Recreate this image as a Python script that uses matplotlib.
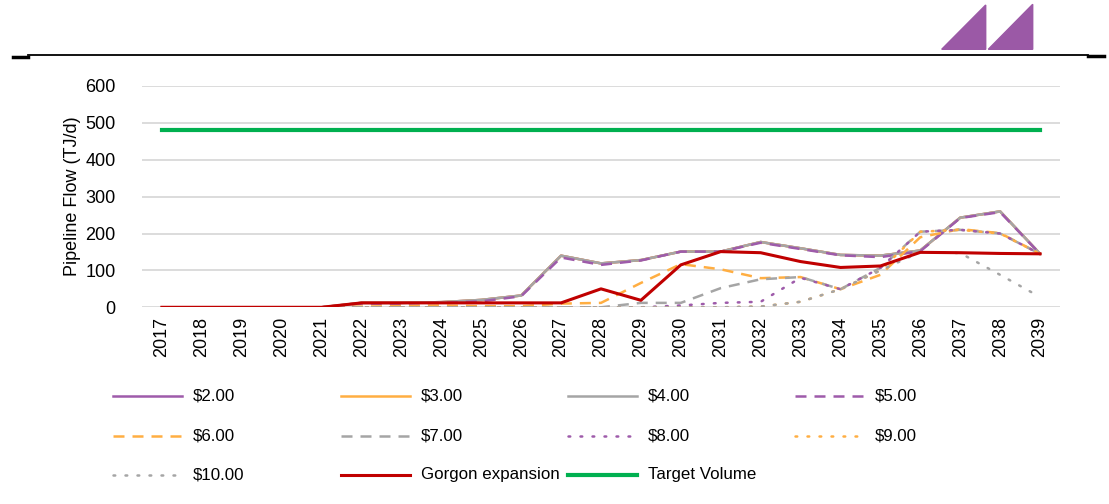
import numpy as np
import matplotlib
matplotlib.use("Agg")
import matplotlib.pyplot as plt
from matplotlib.lines import Line2D
from matplotlib.patches import Polygon

plt.rcParams['font.family'] = ['Liberation Sans', 'DejaVu Sans']
FS = 13
LFS = 12.2

years = [str(y) for y in range(2017, 2040)]

# values (TJ/d)
p2 = [0, 0, 0, 0, 0, 12, 12, 14, 20, 32, 140, 119, 128, 151, 151, 177, 160, 142, 140, 154, 243, 260, 145]
p3 = [0, 0, 0, 0, 0, 12, 12, 14, 20, 32, 140, 119, 128, 151, 151, 177, 160, 142, 140, 154, 243, 260, 145]
p4 = [0, 0, 0, 0, 0, 12, 12, 14, 20, 32, 140, 119, 128, 151, 151, 177, 160, 142, 140, 154, 243, 260, 145]
p5 = [0, 0, 0, 0, 0, 10, 10, 12, 16, 30, 135, 115, 127, 151, 151, 175, 158, 141, 136, 152, 242, 258, 145]
p6 = [0, 0, 0, 0, 0, 2, 3, 5, 3, 3, 10, 12, 66, 117, 103, 79, 82, 49, 88, 190, 212, 201, 145]
p7 = [0, 0, 0, 0, 0, 0, 0, 0, 0, 0, 0, 0, 12, 12, 52, 76, 82, 49, 107, 205, 210, 200, 145]
p8 = [0, 0, 0, 0, 0, 0, 0, 0, 0, 0, 0, 0, 0, 5, 12, 15, 80, 49, 107, 205, 210, 200, 145]
p9 = [0, 0, 0, 0, 0, 0, 0, 0, 0, 0, 0, 0, 0, 0, 0, 2, 15, 49, 100, 205, 210, 200, 145]
p10 = [0, 0, 0, 0, 0, 0, 0, 0, 0, 0, 0, 0, 0, 0, 0, 2, 15, 49, 100, 150, 147, 88, 28]
gorgon = [0, 0, 0, 0, 0, 12, 12, 12, 12, 12, 12, 50, 19, 115, 151, 148, 124, 108, 112, 149, 148, 146, 145]
target = [480] * len(years)

purple = '#9E5BAA'
orange = '#FFAE42'
grey = '#A5A5A5'
red = '#C00000'
green = '#00B050'

dash = (0, (4.4, 3.2))
dot = (0, (0.7, 4.1))

series = [
    ('$2.00', p2, purple, '-', 1.8),
    ('$3.00', p3, orange, '-', 1.8),
    ('$4.00', p4, grey, '-', 1.8),
    ('$5.00', p5, purple, dash, 1.8),
    ('$6.00', p6, orange, dash, 1.8),
    ('$7.00', p7, grey, dash, 1.8),
    ('$8.00', p8, purple, dot, 1.8),
    ('$9.00', p9, orange, dot, 1.8),
    ('$10.00', p10, grey, dot, 1.8),
    ('Gorgon expansion', gorgon, red, '-', 2.2),
    ('Target Volume', target, green, '-', 3.0),
]

fig = plt.figure(figsize=(11.09, 5.04), dpi=100)
ax = fig.add_axes([142 / 1109, 1 - 307.3 / 504, (1060 - 142) / 1109, (307.3 - 86) / 504])

x = np.arange(len(years))
for name, vals, col, ls, lw in series:
    ax.plot(x, vals, color=col, linestyle=ls, linewidth=lw,
            dash_capstyle='round' if ls == dot else 'butt', zorder=3)

ax.set_xlim(-0.5, len(years) - 0.5)
ax.set_ylim(0, 600)
ax.set_yticks(range(0, 700, 100))
ax.set_xticks(x)
ax.set_xticklabels(years, rotation=90, fontsize=FS)
ax.tick_params(axis='y', labelsize=FS, length=0, pad=19)
ax.tick_params(axis='x', length=0, pad=7)
ax.grid(axis='y', color='#D9D9D9', linewidth=1.3, zorder=0)
for s in ax.spines.values():
    s.set_visible(False)
ax.set_ylabel('Pipeline Flow (TJ/d)', fontsize=FS, labelpad=3)

# header rule
fig.add_artist(Line2D([28 / 1109, 1088 / 1109], [1 - 55 / 504] * 2, color='black', lw=1.3))
fig.add_artist(Line2D([13 / 1109, 28 / 1109], [1 - 56.5 / 504] * 2, color='black', lw=2.5))
fig.add_artist(Line2D([1088 / 1109, 1104 / 1109], [1 - 56 / 504] * 2, color='black', lw=2.5))

# logo
logo = '#9B59A6'
for x0, x1, top in [(941.7, 985.7, 5), (988.3, 1032.7, 4.3)]:
    pts = [(x0 / 1109, 1 - 49.3 / 504), (x1 / 1109, 1 - top / 504), (x1 / 1109, 1 - 49.3 / 504)]
    fig.add_artist(Polygon(pts, closed=True, color=logo, transform=fig.transFigure))

# legend, Excel style equal-width columns
col_x = [113, 341, 568, 795]
row_y = [396, 436, 475]
for i, (name, vals, col, ls, lw) in enumerate(series):
    r, c = divmod(i, 4)
    x0 = col_x[c]
    yy = 1 - row_y[r] / 504
    fig.add_artist(Line2D([x0 / 1109, (x0 + 69) / 1109], [yy, yy], color=col, linestyle=ls,
                          linewidth=lw, dash_capstyle='round' if ls == dot else 'butt'))
    fig.text((x0 + 80) / 1109, yy, name, fontsize=LFS, va='center', ha='left')

fig.savefig('out.png', dpi=100)
